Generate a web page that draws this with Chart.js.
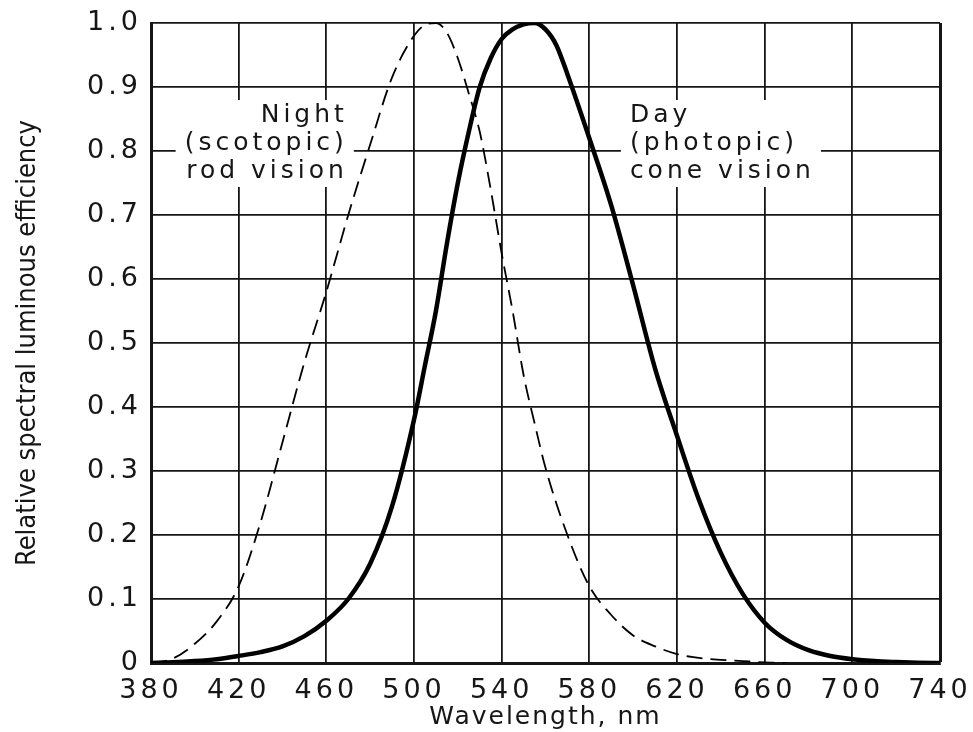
<!DOCTYPE html>
<html>
<head>
<meta charset="utf-8">
<script src="https://cdn.jsdelivr.net/npm/chart.js@4"></script>
<style>
  html, body { margin: 0; padding: 0; background: #fff; }
  canvas { display: block; }
</style>
</head>
<body>
<canvas id="chart" width="973" height="732"></canvas>
<script>
// values
const photopicNm = [380, 390, 400, 410, 420, 430, 440, 450, 460, 470, 480, 490, 500, 505, 510, 515, 520, 525, 530, 535,
    540, 545, 550, 555, 560, 565, 570, 580, 590, 600, 610, 620, 630, 640, 650, 660, 670, 680, 690, 700, 710, 720, 730, 740];
const photopicV = [0, 0.001, 0.003, 0.006, 0.011, 0.017, 0.026, 0.042, 0.066, 0.10, 0.155, 0.245, 0.38, 0.465, 0.55, 0.655,
    0.75, 0.83, 0.90, 0.945, 0.975, 0.99, 0.998, 1.0, 0.99, 0.965, 0.92, 0.82, 0.715, 0.59, 0.46, 0.355, 0.255, 0.172,
    0.108, 0.063, 0.036, 0.02, 0.011, 0.006, 0.003, 0.0015, 0.0005, 0];

const scotopicNm = [380, 390, 400, 410, 420, 430, 440, 450, 460, 470, 480, 490, 500, 505, 510, 515, 520, 525, 530, 535,
    540, 545, 550, 555, 560, 570, 580, 590, 600, 610, 620, 630, 640, 650, 660, 670];
const scotopicV = [0, 0.007, 0.03, 0.065, 0.12, 0.22, 0.345, 0.47, 0.58, 0.70, 0.81, 0.915, 0.98, 0.997, 1.0, 0.985,
    0.945, 0.89, 0.83, 0.74, 0.64, 0.55, 0.45, 0.375, 0.305, 0.20, 0.12, 0.075, 0.043, 0.026, 0.014, 0.008, 0.005,
    0.003, 0.001, 0];

const nightText = ['Night', '(scotopic)', 'rod vision'];
const dayText = ['Day', '(photopic)', 'cone vision'];

const FONT = "'DejaVu Sans', 'Open Sans', sans-serif";
const INK = '#161616';

let toPoints = (xs, ys) => xs.map((x, i) => ({ x: x, y: ys[i] }));

// draw a scale method with extra tracking, the figure uses a wide lettering
function tracked(scale, name, sp) {
    if (scale['_tr_' + name]) return;
    const orig = scale[name];
    scale[name] = function (...args) {
        const c = this.ctx;
        const prev = c.letterSpacing;
        c.letterSpacing = sp;
        orig.apply(this, args);
        c.letterSpacing = prev;
    };
    scale['_tr_' + name] = true;
}

// the two in-plot captions, with a white patch that breaks the grid behind them
const captions = {
    id: 'captions',
    beforeDatasetsDraw(chart) {
        const { ctx, scales: { x, y } } = chart;
        const sp = 4;
        const blocks = [
            { lines: nightText, nm: 468, v: 0.8125, align: 'right' },
            { lines: dayText, nm: 598.5, v: 0.8125, align: 'left' }
        ];
        ctx.save();
        ctx.font = '25px ' + FONT;
        ctx.letterSpacing = sp + 'px';
        ctx.textBaseline = 'middle';
        blocks.forEach(b => {
            const ax = x.getPixelForValue(b.nm);
            const ay = y.getPixelForValue(b.v);
            const lh = 28;
            const rows = b.lines.map((t, i) => {
                const w = ctx.measureText(t).width - sp;
                const left = b.align === 'right' ? ax - w : ax;
                return { t, left, w, cy: ay + (i - 1) * lh };
            });
            const minL = Math.min(...rows.map(r => r.left));
            const maxR = Math.max(...rows.map(r => r.left + r.w));
            ctx.fillStyle = '#fff';
            ctx.fillRect(minL - 9, rows[0].cy - 15, maxR - minL + 19, rows[2].cy - rows[0].cy + 31);
            ctx.fillStyle = INK;
            ctx.textAlign = 'left';
            rows.forEach(r => ctx.fillText(r.t, r.left, r.cy));
        });
        ctx.restore();
    }
};

function renderChart() {
    const dataObj = {
        datasets: [
            {
                label: 'Day (photopic) cone vision',
                data: toPoints(photopicNm, photopicV),
                borderColor: '#000',
                borderWidth: 4.5,
                cubicInterpolationMode: 'monotone',
                pointRadius: 0
            },
            {
                label: 'Night (scotopic) rod vision',
                data: toPoints(scotopicNm, scotopicV),
                borderColor: '#000',
                borderWidth: 1.8,
                borderDash: [16, 8],
                cubicInterpolationMode: 'monotone',
                pointRadius: 0
            }
        ]
    };

    const configObj = {
        type: 'line',
        data: dataObj,
        options: {
            responsive: false,
            animation: false,
            layout: { padding: { left: 0, top: 23, right: 33, bottom: 0 } },
            plugins: {
                legend: { display: false },
                tooltip: { enabled: false }
            },
            scales: {
                x: {
                    type: 'linear',
                    min: 380,
                    max: 740,
                    grid: {
                        color: INK,
                        lineWidth: c => (c.tick && c.tick.value === 740 ? 3 : 1.8),
                        drawTicks: false
                    },
                    border: { color: INK, width: 3 },
                    ticks: {
                        stepSize: 40,
                        padding: 12,
                        color: INK,
                        maxRotation: 0,
                        autoSkip: false,
                        font: { size: 27, family: FONT }
                    },
                    title: {
                        display: true,
                        text: 'Wavelength, nm',
                        color: INK,
                        padding: 0,
                        font: { size: 25, family: FONT }
                    },
                    afterFit(s) {
                        s.height = 69;
                        s.paddingLeft = 0;
                        s.paddingRight = 0;
                        tracked(s, 'drawLabels', '4px');
                        tracked(s, 'drawTitle', '2px');
                    }
                },
                y: {
                    type: 'linear',
                    min: 0,
                    max: 1,
                    grid: {
                        color: INK,
                        lineWidth: 1.8,
                        drawTicks: false
                    },
                    border: { color: INK, width: 3 },
                    ticks: {
                        stepSize: 0.1,
                        padding: 9,
                        color: INK,
                        font: { size: 27, family: FONT },
                        callback: v => (v === 0 ? '0' : v.toFixed(1))
                    },
                    title: {
                        display: true,
                        text: 'Relative spectral luminous efficiency',
                        color: INK,
                        padding: { top: 12, bottom: 0 },
                        font: { size: 27, family: "'DejaVu Sans Condensed', 'Liberation Sans Narrow', sans-serif" }
                    },
                    afterFit(s) {
                        s.width = 151;
                        s.paddingTop = 0;
                        s.paddingBottom = 0;
                        tracked(s, 'drawLabels', '4px');
                    }
                }
            }
        },
        plugins: [captions]
    };

    new Chart(document.getElementById('chart'), configObj);
}

renderChart();
</script>
</body>
</html>
